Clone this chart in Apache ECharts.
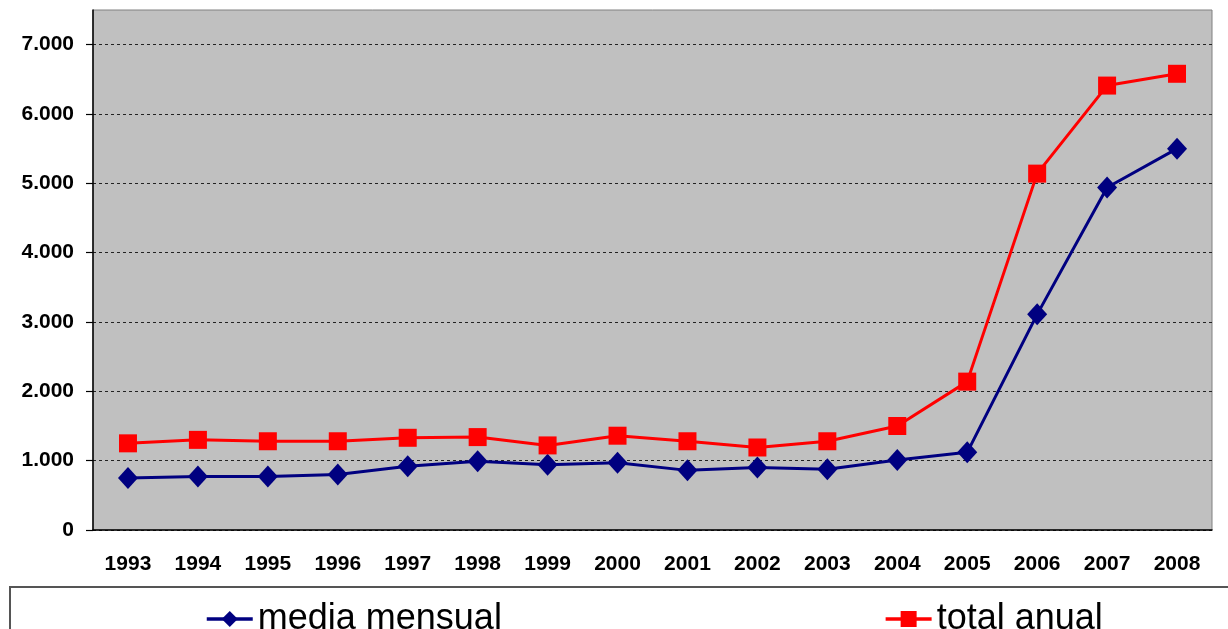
<!DOCTYPE html>
<html>
<head>
<meta charset="utf-8">
<style>
  html, body { margin: 0; padding: 0; background: #fff; }
  #chart { width: 1228px; height: 629px; }
</style>
</head>
<body>
<div id="chart"></div>
<script src="https://cdn.jsdelivr.net/npm/echarts@6/dist/echarts.min.js"></script>
<script>
var years = ['1993','1994','1995','1996','1997','1998','1999','2000','2001','2002','2003','2004','2005','2006','2007','2008'];
var mediaMensual = [750, 770, 770, 800, 920, 990, 940, 970, 860, 900, 875, 1010, 1120, 3110, 4940, 5500];
var totalAnual = [1250, 1300, 1280, 1280, 1330, 1340, 1220, 1360, 1280, 1190, 1280, 1500, 2140, 5140, 6410, 6580];
var yTicks = [0, 1000, 2000, 3000, 4000, 5000, 6000, 7000];

function fmt(v) {
  // dot as thousands separator
  return String(v).replace(/\B(?=(\d{3})+(?!\d))/g, '.');
}

var font = "'Liberation Sans', Arial, sans-serif";
var myChart = echarts.init(document.getElementById('chart'));
var option = {
  animation: false,
  backgroundColor: '#fff',
  grid: {
    left: 93, right: 16, top: 10, bottom: 99,
    show: true,
    backgroundColor: '#C0C0C0',
    borderColor: '#808080',
    borderWidth: 1
  },
  graphic: [{
    type: 'rect',
    shape: { x: 10, y: 587, width: 1240, height: 60 },
    style: { fill: '#fff', stroke: '#555', lineWidth: 2 },
    z: -1
  }],
  legend: {
    left: 200,
    top: 596,
    itemGap: 382,
    itemWidth: 46,
    itemHeight: 20,
    lineStyle: { width: 3.5 },
    textStyle: { fontFamily: font, fontSize: 36, color: '#000' },
    data: ['media mensual', 'total anual']
  },
  xAxis: {
    type: 'category',
    data: years,
    boundaryGap: true,
    axisLine: { lineStyle: { color: '#000', width: 1.5 } },
    axisTick: { length: 8, lineStyle: { color: '#000', width: 1.2 } },
    axisLabel: { fontFamily: font, fontWeight: 'bold', fontSize: 21, color: '#000', margin: 24, interval: 0 }
  },
  yAxis: {
    type: 'value',
    min: 0,
    max: 7500,
    interval: 1000,
    axisLine: { show: true, lineStyle: { color: '#000', width: 1.5 } },
    axisTick: { show: true, length: 7, lineStyle: { color: '#000', width: 1.2 } },
    axisLabel: {
      fontFamily: font, fontWeight: 'bold', fontSize: 21, color: '#000', margin: 19,
      showMaxLabel: false,
      formatter: function (v) { return yTicks.indexOf(v) >= 0 ? fmt(v) : ''; }
    },
    splitLine: { show: true, showMaxLine: false, lineStyle: { color: '#222', type: [3, 3], width: 1 } }
  },
  series: [{
    name: 'media mensual',
    type: 'line',
    data: mediaMensual,
    symbol: 'diamond',
    symbolSize: [20, 22],
    lineStyle: { color: '#000080', width: 3 },
    itemStyle: { color: '#000080' }
  }, {
    name: 'total anual',
    type: 'line',
    data: totalAnual,
    symbol: 'rect',
    symbolSize: 18,
    lineStyle: { color: '#FF0000', width: 3 },
    itemStyle: { color: '#FF0000' }
  }]
};
myChart.setOption(option);
</script>
</body>
</html>
